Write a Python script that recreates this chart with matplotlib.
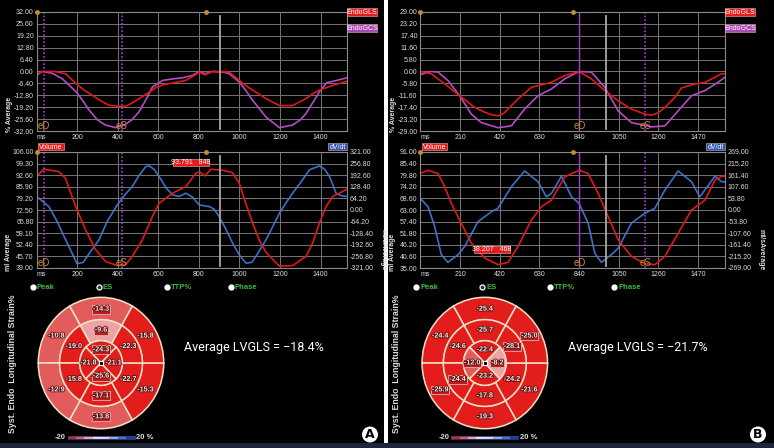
import numpy as np
import matplotlib
matplotlib.use('Agg')
import matplotlib.pyplot as plt
from matplotlib.patches import Wedge, Rectangle, Circle
from matplotlib.colors import ListedColormap, BoundaryNorm
import matplotlib.patheffects as pe

plt.rcParams['font.family'] = ['Liberation Sans', 'DejaVu Sans']

# ---------------- data: panel A ----------------
a_gls_t = [0, 30, 90, 143, 196, 235, 275, 320, 357, 400, 440, 470, 505, 550, 588, 630, 670, 736, 785,
           802, 830, 867, 920, 950, 999, 1030, 1065, 1131, 1197, 1262, 1328, 1360, 1394, 1460, 1530]
a_gls = [-1.4, 0, 0, -1.2, -6.6, -10, -12.8, -16, -18.1, -18.7, -18.7, -17, -14.6, -11.5, -8.7, -7, -6.2,
         -4.8, -1.6, -0.4, -1.8, 0, 0, -0.4, -4.8, -7.5, -10, -14.6, -18.3, -18.3, -14.6, -12, -10, -7.5, -5.2]
a_gcs_t = [0, 28, 77, 127, 196, 230, 258, 300, 340, 390, 440, 470, 505, 540, 571, 621, 670, 719, 768,
           802, 830, 867, 920, 950, 999, 1030, 1065, 1131, 1197, 1262, 1300, 1328, 1360, 1394, 1430, 1460, 1530]
a_gcs = [-2.1, 0, -0.9, -3.9, -11, -16, -20.6, -26, -28.8, -30.2, -28.3, -26, -21.7, -15, -8.4, -4.8, -4,
         -3.4, -2.1, 0, -1.2, 0, -0.3, -1.2, -5.7, -10, -15.5, -24.5, -30.2, -28.8, -26, -22.6, -17, -11,
         -6, -5.3, -3.4]
a_vol_t = [0, 36, 110, 143, 176, 196, 242, 291, 341, 398, 440, 472, 522, 571, 604, 670, 736, 785, 802,
           830, 859, 917, 966, 999, 1032, 1065, 1098, 1131, 1197, 1262, 1328, 1361, 1394, 1427, 1460, 1530]
a_vol = [92, 96, 94.7, 90.8, 80, 73.6, 61, 49.6, 42.7, 40.4, 41, 45.7, 55.3, 68.7, 76.4, 82.2, 86, 93.7,
         94.7, 92.2, 96, 95.5, 94, 88, 76, 65, 55, 48, 40, 40.4, 45.7, 53.4, 65, 74.5, 80.3, 84.5]
a_dvdt_t = [0, 61, 100, 150, 200, 230, 260, 308, 350, 398, 440, 472, 505, 538, 555, 580, 604, 640, 670,
            703, 736, 770, 802, 851, 875, 900, 935, 966, 1000, 1032, 1060, 1081, 1131, 1165, 1197, 1230,
            1262, 1300, 1345, 1394, 1420, 1444, 1476, 1500, 1530]
a_dvdt = [75, 19, -60, -180, -297, -290, -240, -165, -60, 28, 90, 130, 190, 240, 244, 225, 185, 120, 84,
          75, 93, 70, 28, 19, 5, -36, -110, -183, -250, -294, -290, -257, -165, -90, -18, 40, 93, 150,
          222, 244, 225, 185, 93, 80, 75]
a_basal = [-14.3, -10.8, -12.9, -13.8, -15.3, -15.8]   # top, upper-left, lower-left, bottom, lower-right, upper-right
a_mid = [-9.6, -19.0, -15.8, -17.1, -22.7, -22.3]
a_apical = [-24.3, -21.8, -25.6, -21.1]                # top, left, bottom, right
a_avg = -18.4

# ---------------- data: panel B ----------------
b_gls_t = [0, 58, 129, 208, 288, 340, 376, 411, 440, 464, 517, 588, 658, 694, 730, 764, 840, 905, 976,
           1047, 1117, 1188, 1223, 1260, 1294, 1347, 1382, 1453, 1506, 1559, 1594, 1612]
b_gls = [0, -1.1, -6, -11.8, -17.5, -19.8, -21.1, -21.6, -20.5, -18.3, -13.4, -7.7, -6.1, -5.2, -3.5,
         -2, 0, -3.6, -9.3, -14.3, -18.3, -20.8, -21.3, -20, -17.5, -12.6, -8, -6.1, -5.3, -2.8, -1.1, -1.1]
b_gcs_t = [0, 58, 94, 146, 208, 270, 323, 411, 482, 552, 623, 694, 764, 840, 905, 976, 1047, 1117, 1223,
           1294, 1364, 1435, 1506, 1576, 1612]
b_gcs = [-1.5, 0, -0.3, -4.4, -11.8, -20.8, -24.9, -27.4, -26.5, -18.3, -11.8, -8.5, -3.6, 0, -0.3, -7.7,
         -19.2, -24.9, -27, -26.5, -19.2, -11.8, -9.3, -5.2, -2.8]
b_vol_t = [0, 41, 94, 129, 164, 208, 270, 341, 411, 464, 517, 588, 641, 694, 764, 840, 888, 941, 994,
           1047, 1117, 1188, 1241, 1294, 1364, 1435, 1506, 1559, 1594, 1612]
b_vol = [80.6, 82.2, 80.6, 74.2, 66.2, 58.2, 47, 39.8, 36.6, 37.7, 45.4, 58.2, 64.6, 67.8, 79, 82.2, 80.6,
         71, 59.8, 48.6, 40.6, 37.1, 36.6, 40.6, 51.8, 63, 67.8, 77.4, 79.3, 79.3]
b_dvdt_t = [0, 41, 76, 111, 146, 200, 235, 305, 376, 411, 482, 552, 623, 667, 694, 747, 800, 840, 888,
            923, 958, 1011, 1047, 1117, 1188, 1241, 1294, 1364, 1435, 1479, 1559, 1594, 1612]
b_dvdt = [54, 15, -77, -207, -243, -207, -169, -54, -8, 8, 108, 181, 131, 61, 77, 157, 61, 31, -61, -200,
          -243, -207, -177, -61, -15, 8, 92, 181, 131, 61, 157, 131, 131]
b_basal = [-25.4, -24.4, -25.9, -19.3, -21.6, -25.0]
b_mid = [-25.7, -24.6, -24.4, -17.8, -24.2, -28.1]
b_apical = [-22.4, -12.0, -23.2, -8.2]
b_avg = -21.7

W, H = 774, 448
fig = plt.figure(figsize=(W / 100, H / 100), dpi=100)
fig.patch.set_facecolor('white')


def pax(x0, y0, x1, y1):
    return fig.add_axes([x0 / W, 1 - y1 / H, (x1 - x0) / W, (y1 - y0) / H])


bg = pax(0, 0, W, H)
bg.set_xlim(0, W); bg.set_ylim(H, 0); bg.axis('off'); bg.set_zorder(-5)
bg.add_patch(Rectangle((0, 0), 384, 443, fc='black', ec='none'))
bg.add_patch(Rectangle((388, 0), 386, 443, fc='black', ec='none'))
bg.add_patch(Rectangle((0, 443), W, 5, fc='#1c2638', ec='none'))

fg = pax(0, 0, W, H)
fg.set_xlim(0, W); fg.set_ylim(H, 0); fg.axis('off'); fg.set_zorder(20)
fg.patch.set_alpha(0)

TXT = '#dcdcdc'
ORANGE = '#c98b2b'
PURPLE = '#a23fd0'
colors_seg = ['#e31c1c', '#e35c5c', '#eba3a3', '#f2d8dc', '#d6d6ec', '#a2a8d6', '#5a6cbc', '#1f3f9c']
cmap = ListedColormap(colors_seg)
norm = BoundaryNorm([-20, -15, -10, -5, 0, 5, 10, 15, 20], cmap.N, extend='neither', clip=True)


def style(ax, xmax, xticks, yticks):
    ax.set_facecolor('none')
    ax.set_xlim(0, xmax)
    ax.set_ylim(yticks[0], yticks[-1])
    ax.set_xticks(xticks)
    ax.set_xticklabels(['ms'] + [str(v) for v in xticks[1:]])
    ax.get_xticklabels()[0].set_ha('left')
    ax.set_yticks(yticks)
    ax.set_yticklabels([f'{v:.2f}' for v in yticks])
    ax.tick_params(length=0, labelsize=5, colors=TXT, pad=2)
    for s in ax.spines.values():
        s.set_color('#8a8a8a'); s.set_linewidth(0.8)
    ax.grid(True, color='#767676', lw=0.7)
    ax.set_axisbelow(True)


def tag(x0, y0, x1, y1, text, fc):
    fg.add_patch(Rectangle((x0, y0), x1 - x0, y1 - y0, fc=fc, ec='#f0b0b0', lw=0.4))
    fg.text((x0 + x1) / 2, (y0 + y1) / 2 + 0.3, text, color='white', fontsize=5, ha='center', va='center')


def markers(ax, ed, es, ed_solid, ylo, yhi, cursor, dot):
    for t, lab, solid in [(ed, 'eD', ed_solid), (es, 'eS', False)]:
        ax.axvline(t, color=PURPLE, lw=1.0 if solid else 1.2, ls='-' if solid else (0, (1, 1.2)))
        ax.text(t, ylo, lab, color=ORANGE, fontsize=7, ha='center', va='bottom')
    ax.plot([cursor, cursor], [ylo + (yhi - ylo) * 0.02, yhi - (yhi - ylo) * 0.035],
            color='#a8a8a8', lw=1.3)
    ax.plot([0, dot], [yhi, yhi], 'o', ms=2.5, color=ORANGE, clip_on=False, zorder=5)


def bullseye(ax, basal, mid, apical, boxed):
    ax.set_xlim(-1.02, 1.02); ax.set_ylim(-1.02, 1.02); ax.axis('off')
    rings = [(basal, 1.0, 0.66, [90, 150, 210, 270, 330, 30], 60, 0.82, 'b'),
             (mid, 0.66, 0.34, [90, 150, 210, 270, 330, 30], 60, 0.5, 'm'),
             (apical, 0.34, 0.0, [90, 180, 270, 0], 90, 0.2, 'a')]
    for vals, ro, ri, angs, w, rl, key in rings:
        for i, (v, c) in enumerate(zip(vals, angs)):
            ax.add_patch(Wedge((0, 0), ro, c - w / 2, c + w / 2, width=ro - ri,
                               fc=cmap(norm(v)), ec='#f1e2c6', lw=1.1))
            x, y = rl * np.cos(np.radians(c)), rl * np.sin(np.radians(c))
            bb = None
            if (key, i) in boxed:
                bb = dict(boxstyle='square,pad=0.12', fc='#c01a1a', ec='#d8b4b4', lw=0.6)
            ax.text(x, y, f'{v:.1f}', fontsize=5.2, weight='bold', color='#f6eaea', ha='center',
                    va='center', bbox=bb,
                    path_effects=[pe.withStroke(linewidth=1.2, foreground='#5a1010')])
    ax.plot(0, 0, 's', ms=3.0, mfc='black', mec='white', mew=0.8)


def panel(ox, xmax, xticks, gls_t, gls, gcs_t, gcs, vol_t, vol, dv_t, dv, ylim_s, ylim_v, ylim_d,
          ed, es, ed_solid, cursor, dot, basal, mid, apical, boxed, avg, ann, letter):
    # strain chart
    ax = pax(ox[0], 12, ox[1], 131)
    style(ax, xmax, xticks, list(np.linspace(-ylim_s, ylim_s, 11)))
    ax.plot(gcs_t, gcs, color='#b54cc4', lw=1.2)
    ax.plot(gls_t, gls, color='#e01818', lw=1.2)
    markers(ax, ed, es, ed_solid, -ylim_s, ylim_s, cursor, dot)

    # volume chart
    axv = pax(ox[0], 152, ox[1], 268)
    style(axv, xmax, xticks, list(np.linspace(ylim_v[0], ylim_v[1], 11)))
    axd = axv.twinx()
    axd.set_ylim(-ylim_d, ylim_d)
    dt = list(np.linspace(-ylim_d, ylim_d, 11))
    axd.set_yticks(dt)
    axd.set_yticklabels([f'{v:.2f}' for v in dt])
    axd.tick_params(length=0, labelsize=5, colors=TXT, pad=2)
    for s in axd.spines.values():
        s.set_visible(False)
    axd.plot(dv_t, dv, color='#3a6fd0', lw=1.2)
    axv.set_zorder(axd.get_zorder() + 1)
    axv.plot(vol_t, vol, color='#e01818', lw=1.2)
    markers(axv, ed, es, ed_solid, ylim_v[0], ylim_v[1], cursor, dot)

    x0, x1 = ox
    tag(x1, 8, x1 + 30, 16, 'EndoGLS', '#e41c1c')
    tag(x1, 24, x1 + 30, 32, 'EndoGCS', '#a549b5')
    tag(x0 + 1.5, 143.5, x0 + 27, 150.5, 'Volume', '#e41c1c')
    tag(x1 - 19, 143.5, x1, 150.5, 'dV/dt', '#2a52b2')
    tag(ann[0], ann[1], ann[0] + 36, ann[1] + 7, ann[2], '#e41c1c')

    px0 = ox[0] - 27
    fg.text(px0, 114, '% Average', rotation=90, ha='center', va='center', fontsize=5,
            color=TXT, weight='bold')
    fg.text(px0 - 1, 252, 'ml Average', rotation=90, ha='center', va='center', fontsize=5,
            color=TXT, weight='bold')
    fg.text(x1 + 36, 250, 'ml/sAverage', rotation=270, ha='center', va='center', fontsize=5,
            color=TXT, weight='bold')

    # radio row
    for dx, lab in [(-4, 'Peak'), (62, 'ES'), (130, 'TTP%'), (194, 'Phase')]:
        sel = lab == 'ES'
        fg.plot(ox[0] + dx, 287, 'o', ms=3.6, mfc='#333333' if sel else 'white', mec='white', mew=0.9)
        fg.text(ox[0] + dx + 4, 287.3, lab, color='#3fb83f', fontsize=5.5, weight='bold', va='center')

    fg.text(px0 + 3, 364, 'Syst. Endo  Longitudinal Strain%', rotation=90, ha='center', va='center',
            fontsize=6.3, color=TXT, weight='bold')

    # bull's eye
    cx, cy = ox[0] + 64.5, 363
    be = pax(cx - 64, cy - 67, cx + 64, cy + 67)
    bullseye(be, basal, mid, apical, boxed)

    # colour bar
    cb = pax(ox[0] + 31, 435.5, ox[0] + 98, 439)
    cb.pcolormesh(np.array([[-17.5, -12.5, -7.5, -2.5, 2.5, 7.5, 12.5, 17.5]]), cmap=cmap, norm=norm)
    cb.set_xticks([]); cb.set_yticks([])
    for s in cb.spines.values():
        s.set_color('#2a3f8a'); s.set_linewidth(0.6)
    fg.text(ox[0] + 29, 437.5, '-20', color=TXT, fontsize=5.5, weight='bold', ha='right', va='center')
    fg.text(ox[0] + 100, 437.5, '20 %', color=TXT, fontsize=5.5, weight='bold', ha='left', va='center')

    fg.text(ox[0] + 148, 348, f'Average LVGLS = \u2212{abs(avg):.1f}%', color='white', fontsize=9,
            family=['Roboto', 'DejaVu Sans'], ha='left', va='center')

    lx = x1 + 23 if letter == 'A' else x1 + 33
    fg.add_patch(Circle((lx, 434.5), 8, fc='white', ec='none'))
    fg.text(lx, 435, letter, color='black', fontsize=9, weight='bold', ha='center', va='center',
            family=['DejaVu Sans'])


panel((36.5, 347), 1530, [0, 200, 400, 600, 800, 1000, 1200, 1400],
      a_gls_t, a_gls, a_gcs_t, a_gcs, a_vol_t, a_vol, a_dvdt_t, a_dvdt,
      32, (39, 106), 321, 35, 420, False, 905, 835,
      a_basal, a_mid, a_apical,
      {('b', 0), ('m', 0), ('a', 0), ('a', 2), ('m', 3), ('b', 3)},
      a_avg, (173, 159, '93.791   848'), 'A')

panel((420.3, 725), 1612, [0, 210, 420, 630, 840, 1050, 1260, 1470],
      b_gls_t, b_gls, b_gcs_t, b_gcs, b_vol_t, b_vol, b_dvdt_t, b_dvdt,
      29, (35, 91), 269, 842, 1190, True, 985, 809,
      b_basal, b_mid, b_apical,
      {('b', 5), ('m', 5), ('a', 1), ('a', 3), ('m', 2), ('b', 2)},
      b_avg, (474, 246, '38.207   468'), 'B')

fig.savefig('out.png', dpi=100, facecolor='white')
